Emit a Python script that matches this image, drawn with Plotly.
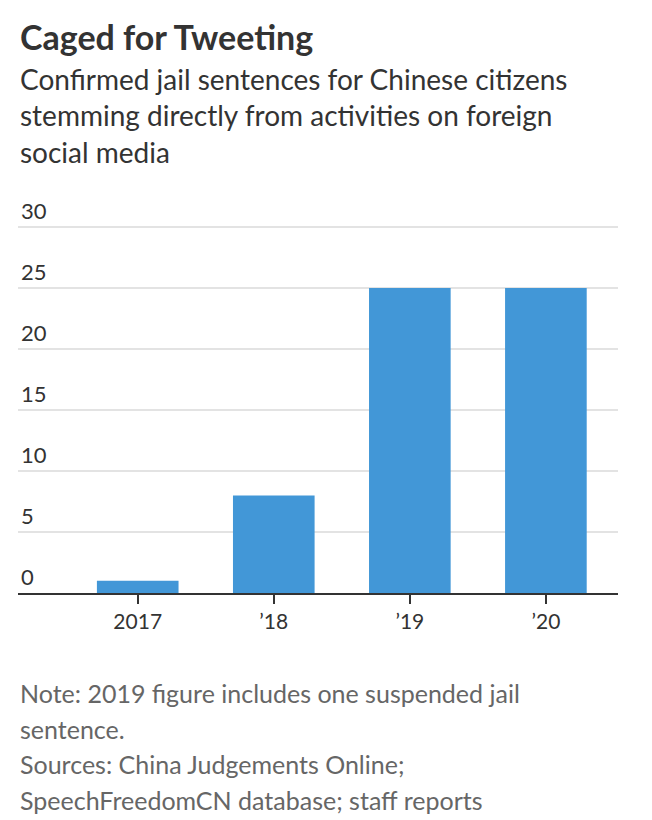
import plotly.graph_objects as go

# data
years = ["2017", "\u201918", "\u201919", "\u201920"]
sentences = [1, 8, 25, 25]
y_ticks = [0, 5, 10, 15, 20, 25, 30]

title = "Caged for Tweeting"
subtitle = ("Confirmed jail sentences for Chinese citizens<br>"
            "stemming directly from activities on foreign<br>"
            "social media")
note_lines = [
    "Note: 2019 figure includes one suspended jail",
    "sentence.",
    "Sources: China Judgements Online;",
    "SpeechFreedomCN database; staff reports",
]

FONT = "Lato"
# the page body adds an 8px offset, margins are set to compensate
top, bottom = 185, 235
plot_h = 820 - top - bottom
px_per_unit = 12.2
y_top = plot_h / px_per_unit  # leaves room above the 30 gridline for its label


def paper_y(page_y):
    # convert a page pixel row into paper coordinates
    return (top + plot_h - (page_y - 8)) / plot_h


fig = go.Figure()
fig.add_trace(go.Bar(
    x=years,
    y=sentences,
    marker=dict(color="#4297d7", line=dict(width=0)),
    width=0.6,
    hoverinfo="x+y",
))

annotations = [
    dict(text="<b>" + title + "</b>", xref="paper", yref="paper",
         x=0, y=paper_y(14), xanchor="left", yanchor="top",
         showarrow=False, align="left",
         font=dict(family=FONT, size=34, color="#333333")),
    dict(text=subtitle, xref="paper", yref="paper",
         x=0, y=paper_y(60), xanchor="left", yanchor="top",
         showarrow=False, align="left",
         font=dict(family=FONT, size=28, color="#333333")),
]
# note lines one by one to get the wider line spacing
for i, line in enumerate(note_lines):
    annotations.append(dict(
        text=line, xref="paper", yref="paper",
        x=0, y=paper_y(676 + i * 35.5), xanchor="left", yanchor="top",
        showarrow=False, align="left",
        font=dict(family=FONT, size=25, color="#666666")))

fig.update_layout(
    width=652, height=820,
    margin=dict(l=10, r=42, t=top, b=bottom),
    paper_bgcolor="white",
    plot_bgcolor="white",
    font=dict(family=FONT, color="#333333"),
    showlegend=False,
    xaxis=dict(
        type="category",
        range=[-0.88, 3.53],
        showline=True, linecolor="#333333", linewidth=2,
        ticks="outside", ticklen=9, tickwidth=2, tickcolor="#333333",
        tickfont=dict(size=21, color="#333333"),
        showgrid=False,
        fixedrange=True,
    ),
    yaxis=dict(
        range=[0, y_top],
        tickvals=y_ticks,
        ticklabelposition="inside top",
        tickfont=dict(size=22, color="#333333"),
        showgrid=True, gridcolor="#e3e3e3", gridwidth=1.5,
        zeroline=False, showline=False, ticks="",
        fixedrange=True,
    ),
    annotations=annotations,
)

fig.write_html("out.html")
